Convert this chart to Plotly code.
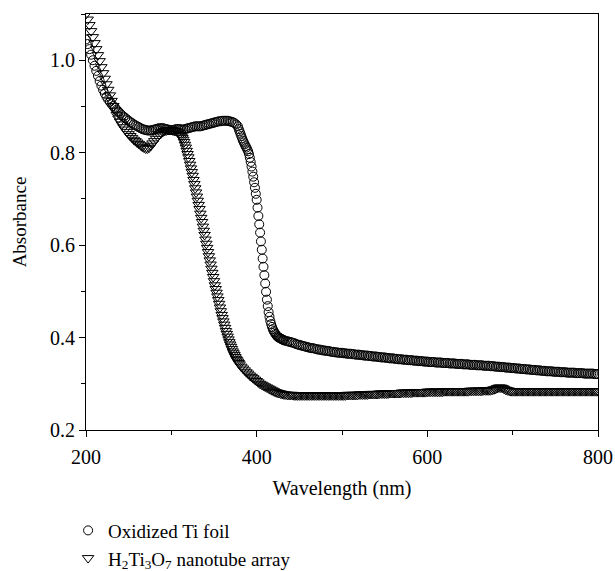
import plotly.graph_objects as go

# ---------------- data ----------------
# Oxidized Ti foil (circles)
foil_wl = list(range(200, 380, 2)) + list(range(379, 432)) + list(range(432, 801, 2))
foil_abs = [
    1.045, 1.035, 1.024, 1.012, 1.000, 0.988, 0.977, 0.966, 0.955, 0.945,
    0.936, 0.928, 0.921, 0.915, 0.910, 0.905, 0.901, 0.897, 0.893, 0.889,
    0.885, 0.881, 0.878, 0.875, 0.872, 0.869, 0.866, 0.864, 0.861, 0.859,
    0.857, 0.855, 0.853, 0.851, 0.850, 0.849, 0.848, 0.848, 0.848, 0.849,
    0.850, 0.851, 0.852, 0.853, 0.853, 0.853, 0.852, 0.851, 0.850, 0.849,
    0.849, 0.849, 0.850, 0.851, 0.851, 0.851, 0.850, 0.850, 0.851, 0.852,
    0.853, 0.854, 0.855, 0.856, 0.857, 0.857, 0.857, 0.857, 0.858, 0.859,
    0.860, 0.861, 0.862, 0.863, 0.864, 0.865, 0.866, 0.867, 0.868, 0.868,
    0.869, 0.869, 0.869, 0.869, 0.868, 0.867, 0.866, 0.864, 0.861, 0.857,
    # 379 .. 431 (1 nm)
    0.851, 0.846, 0.841, 0.836, 0.831, 0.826, 0.822, 0.818, 0.814, 0.811,
    0.807, 0.803, 0.797, 0.789, 0.780, 0.770, 0.759, 0.748, 0.736, 0.724,
    0.711, 0.698, 0.681, 0.663, 0.645, 0.627, 0.608, 0.590, 0.571, 0.553,
    0.535, 0.517, 0.499, 0.482, 0.468, 0.455, 0.445, 0.436, 0.429, 0.423,
    0.418, 0.414, 0.411, 0.408, 0.405, 0.403, 0.401, 0.400, 0.399, 0.398,
    0.397, 0.396, 0.395,
    # 432 .. 800 (2 nm)
    0.394, 0.393, 0.392, 0.391, 0.390, 0.389, 0.388, 0.386, 0.385, 0.384,
    0.383, 0.382, 0.381, 0.380, 0.379, 0.378, 0.377, 0.377, 0.376, 0.375,
    0.374, 0.374, 0.373, 0.372, 0.372, 0.371, 0.371, 0.370, 0.369, 0.369,
    0.368, 0.368, 0.367, 0.367, 0.367, 0.366, 0.366, 0.365, 0.365, 0.365,
    0.364, 0.364, 0.363, 0.363, 0.363, 0.362, 0.362, 0.361, 0.361, 0.361,
    0.360, 0.360, 0.359, 0.359, 0.359, 0.358, 0.358, 0.357, 0.357, 0.357,
    0.356, 0.356, 0.355, 0.355, 0.355, 0.354, 0.354, 0.353, 0.353, 0.353,
    0.352, 0.352, 0.352, 0.351, 0.351, 0.351, 0.350, 0.350, 0.350, 0.349,
    0.349, 0.349, 0.348, 0.348, 0.348, 0.347, 0.347, 0.347, 0.347, 0.346,
    0.346, 0.346, 0.346, 0.345, 0.345, 0.345, 0.345, 0.344, 0.344, 0.344,
    0.344, 0.343, 0.343, 0.343, 0.343, 0.342, 0.342, 0.342, 0.342, 0.341,
    0.341, 0.341, 0.341, 0.340, 0.340, 0.340, 0.340, 0.339, 0.339, 0.339,
    0.339, 0.338, 0.338, 0.338, 0.337, 0.337, 0.337, 0.336, 0.336, 0.336,
    0.335, 0.335, 0.335, 0.334, 0.334, 0.334, 0.333, 0.333, 0.333, 0.332,
    0.332, 0.332, 0.331, 0.331, 0.331, 0.330, 0.330, 0.330, 0.329, 0.329,
    0.329, 0.328, 0.328, 0.328, 0.327, 0.327, 0.327, 0.327, 0.326, 0.326,
    0.326, 0.326, 0.325, 0.325, 0.325, 0.325, 0.324, 0.324, 0.324, 0.324,
    0.324, 0.323, 0.323, 0.323, 0.323, 0.323, 0.322, 0.322, 0.322, 0.322,
    0.322, 0.322, 0.321, 0.321, 0.321,
]

# H2Ti3O7 nanotube array (down triangles)
tube_wl = list(range(200, 312, 2)) + list(range(311, 381)) + list(range(382, 801, 2))
tube_abs = [
    1.100, 1.088, 1.076, 1.063, 1.050, 1.037, 1.024, 1.011, 0.998, 0.985,
    0.972, 0.960, 0.948, 0.936, 0.924, 0.912, 0.901, 0.891, 0.882, 0.874,
    0.867, 0.861, 0.855, 0.850, 0.845, 0.840, 0.836, 0.832, 0.828, 0.825,
    0.822, 0.819, 0.816, 0.813, 0.811, 0.809, 0.809, 0.811, 0.815, 0.820,
    0.825, 0.830, 0.835, 0.839, 0.842, 0.845, 0.847, 0.848, 0.849, 0.849,
    0.849, 0.848, 0.847, 0.846, 0.844, 0.841,
    # 311 .. 380 (1 nm)
    0.838, 0.835, 0.832, 0.828, 0.823, 0.817, 0.811, 0.804, 0.797, 0.790,
    0.782, 0.774, 0.766, 0.758, 0.750, 0.741, 0.732, 0.723, 0.714, 0.705,
    0.696, 0.687, 0.678, 0.668, 0.659, 0.650, 0.640, 0.631, 0.622, 0.612,
    0.603, 0.594, 0.585, 0.576, 0.567, 0.558, 0.549, 0.540, 0.531, 0.522,
    0.513, 0.505, 0.497, 0.489, 0.481, 0.473, 0.465, 0.457, 0.449, 0.442,
    0.435, 0.428, 0.421, 0.414, 0.408, 0.402, 0.396, 0.390, 0.385, 0.380,
    0.375, 0.370, 0.366, 0.362, 0.358, 0.354, 0.351, 0.348, 0.345, 0.342,
    # 382 .. 800 (2 nm)
    0.337, 0.333, 0.329, 0.325, 0.322, 0.318, 0.315, 0.312, 0.309, 0.306,
    0.303, 0.300, 0.298, 0.296, 0.294, 0.292, 0.290, 0.288, 0.286, 0.284,
    0.282, 0.281, 0.280, 0.279, 0.278, 0.277, 0.277, 0.276, 0.276, 0.276,
    0.276, 0.275, 0.275, 0.275, 0.275, 0.275, 0.275, 0.275, 0.275, 0.275,
    0.275, 0.275, 0.275, 0.275, 0.275, 0.275, 0.275, 0.275, 0.275, 0.275,
    0.275, 0.275, 0.275, 0.275, 0.275, 0.275, 0.275, 0.275, 0.275, 0.275,
    0.275, 0.275, 0.276, 0.276, 0.276, 0.276, 0.276, 0.276, 0.276, 0.277,
    0.277, 0.277, 0.277, 0.277, 0.277, 0.278, 0.278, 0.278, 0.278, 0.278,
    0.278, 0.279, 0.279, 0.279, 0.279, 0.279, 0.279, 0.280, 0.280, 0.280,
    0.280, 0.280, 0.280, 0.280, 0.281, 0.281, 0.281, 0.281, 0.281, 0.281,
    0.281, 0.282, 0.282, 0.282, 0.282, 0.282, 0.282, 0.282, 0.282, 0.283,
    0.283, 0.283, 0.283, 0.283, 0.283, 0.283, 0.283, 0.283, 0.283, 0.284,
    0.284, 0.284, 0.284, 0.284, 0.284, 0.284, 0.284, 0.284, 0.284, 0.284,
    0.284, 0.284, 0.284, 0.284, 0.285, 0.285, 0.285, 0.285, 0.285, 0.285,
    0.285, 0.285, 0.286, 0.286, 0.286, 0.286, 0.286, 0.287, 0.288, 0.289,
    0.291, 0.292, 0.292, 0.291, 0.289, 0.287, 0.286, 0.285, 0.284, 0.284,
    0.284, 0.284, 0.284, 0.284, 0.284, 0.284, 0.284, 0.284, 0.284, 0.284,
    0.284, 0.284, 0.284, 0.284, 0.284, 0.284, 0.284, 0.284, 0.284, 0.284,
    0.284, 0.284, 0.284, 0.284, 0.284, 0.284, 0.284, 0.284, 0.284, 0.284,
    0.284, 0.284, 0.284, 0.284, 0.284, 0.284, 0.284, 0.284, 0.284, 0.284,
    0.284, 0.284, 0.284, 0.284, 0.284, 0.284, 0.284, 0.284, 0.284, 0.284,
]

x_ticks = [200, 400, 600, 800]
y_ticks = [0.2, 0.4, 0.6, 0.8, 1.0]
y_tick_labels = ["0.2", "0.4", "0.6", "0.8", "1.0"]

foil_name = "Oxidized Ti foil"
tube_name = "H<sub>2</sub>Ti<sub>3</sub>O<sub>7</sub> nanotube array"

assert len(foil_wl) == len(foil_abs), (len(foil_wl), len(foil_abs))
assert len(tube_wl) == len(tube_abs), (len(tube_wl), len(tube_abs))

FONT = "Liberation Serif, Times New Roman, serif"
FS = 20

fig = go.Figure()
fig.add_trace(go.Scatter(
    x=foil_wl, y=foil_abs, mode="markers", name=foil_name,
    marker=dict(symbol="circle-open", size=9, color="black",
                line=dict(color="black", width=1)),
))
fig.add_trace(go.Scatter(
    x=tube_wl, y=tube_abs, mode="markers", name=tube_name,
    marker=dict(symbol="triangle-down-open", size=10, color="black",
                line=dict(color="black", width=1)),
))

axis_common = dict(
    showline=True, linecolor="black", linewidth=1.2, mirror=True,
    ticks="outside", ticklen=6, tickwidth=1.2, tickcolor="black",
    showgrid=False, zeroline=False, automargin=False,
    tickfont=dict(family=FONT, size=FS, color="black"),
)

fig.update_xaxes(
    range=[200, 800], tickvals=x_ticks, ticklabelstandoff=3,
    minor=dict(dtick=100, ticks="outside", ticklen=4, tickcolor="black", tickwidth=1.2),
    title=dict(text="Wavelength (nm)", font=dict(family=FONT, size=FS, color="black"), standoff=13),
    **axis_common,
)
fig.update_yaxes(
    range=[0.2, 1.1], tickvals=y_ticks, ticktext=y_tick_labels,
    minor=dict(dtick=0.1, ticks="outside", ticklen=4, tickcolor="black", tickwidth=1.2),
    title=dict(text="Absorbance", font=dict(family=FONT, size=19, color="black"), standoff=18),
    **axis_common,
)

fig.update_layout(
    width=615, height=571,
    margin=dict(l=86, r=17, t=14, b=141, autoexpand=False),
    paper_bgcolor="white", plot_bgcolor="white",
    showlegend=True,
    legend=dict(
        x=-0.035, xanchor="left", y=-0.196, yanchor="top",
        orientation="v", bgcolor="rgba(0,0,0,0)",
        font=dict(family=FONT, size=19, color="black"),
        itemwidth=30, tracegroupgap=0,
    ),
    font=dict(family=FONT, size=FS, color="black"),
)

# remove the default page margin so the figure sits at the window's top-left
page_fix = ("document.body.style.margin='0';"
            "document.body.style.overflow='hidden';"
            "document.documentElement.style.overflow='hidden';")

fig.write_html("out.html", post_script=page_fix, config={"displayModeBar": False})
